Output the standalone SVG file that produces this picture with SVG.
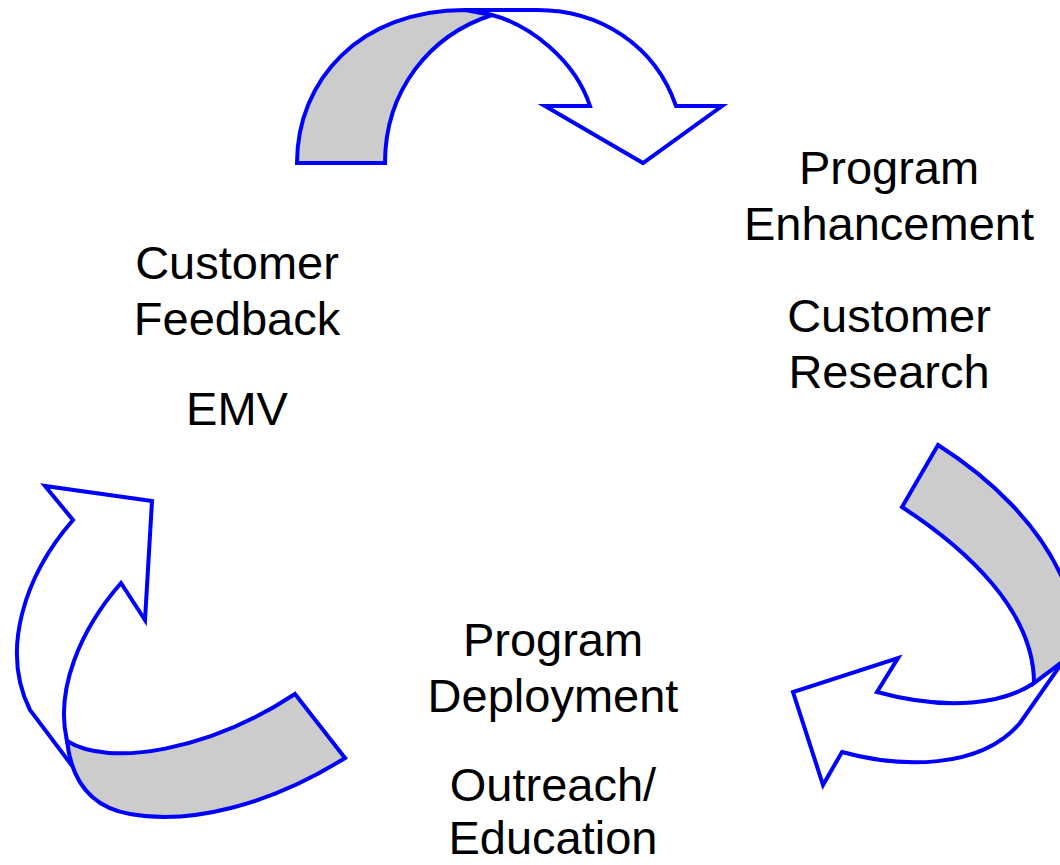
<svg xmlns="http://www.w3.org/2000/svg" width="1060" height="865" viewBox="0 0 1060 865">
<style>
.front{fill:#ffffff;stroke:#0000ff;stroke-width:4;stroke-linejoin:miter}
.back{fill:#cccccc;stroke:#0000ff;stroke-width:4;stroke-linejoin:miter}
.lbl{font-family:"Liberation Sans",Arial,sans-serif;font-size:47px;fill:#000000;text-anchor:middle}
</style>
<rect width="1060" height="865" fill="#ffffff"/>
<g id="connectors">
  <g id="arrow-top">
    <path class="front" d="M465,10 L537,10 C600,10 655,45 676,106 L722,106 L643,163 L545,106 L590,106 C575,60 530,25 492,15 Z"/>
    <path class="back" d="M297,163 C297,80 360,10 465,10 L492,15 C430,35 385,90 385,163 Z"/>
  </g>
  <g id="arrow-right">
    <path class="front" d="M1034,683 C1005,703 950,712 877,692 L898,658 L793,692 L823,785 L842,752 C900,768 980,770 1020,723 L1064,660 Z"/>
    <path class="back" d="M938,445 C990,478 1040,525 1064,582 C1078,620 1075,648 1062,662 L1034,683 C1034,610 965,548 902,507 Z"/>
  </g>
  <g id="arrow-left">
    <path class="front" d="M121,583 L145,620 L152,501 L45,486 L73,520 C25,575 0,650 30,710 L76,771 L67,741 C55,690 80,630 121,583 Z"/>
    <path class="back" d="M295,694 L345,758 C270,805 190,825 130,814 C95,808 72,785 67,741 C110,768 210,750 295,694 Z"/>
  </g>
</g>
<g id="node-feedback">
  <text class="lbl" x="237" y="279">Customer</text>
  <text class="lbl" x="237" y="335">Feedback</text>
  <text class="lbl" x="237" y="425">EMV</text>
</g>
<g id="node-enhancement">
  <text class="lbl" x="889" y="184">Program</text>
  <text class="lbl" x="889" y="240">Enhancement</text>
  <text class="lbl" x="889" y="332">Customer</text>
  <text class="lbl" x="889" y="388">Research</text>
</g>
<g id="node-deployment">
  <text class="lbl" x="553" y="656">Program</text>
  <text class="lbl" x="553" y="712">Deployment</text>
  <text class="lbl" x="553" y="801">Outreach/</text>
  <text class="lbl" x="553" y="854">Education</text>
</g>
</svg>
